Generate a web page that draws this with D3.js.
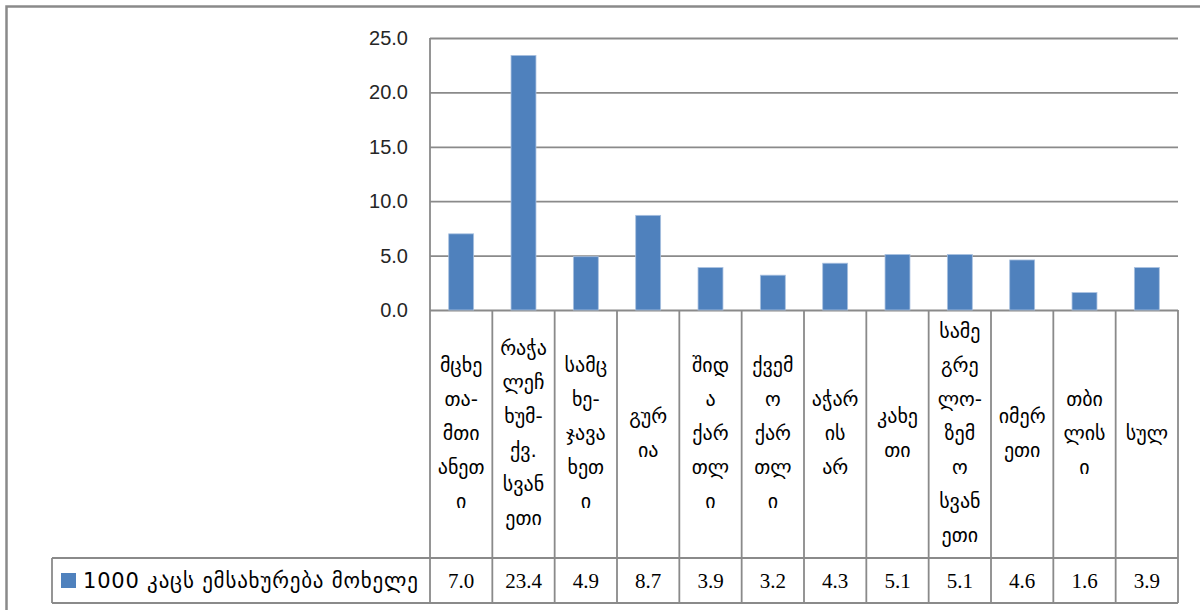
<!DOCTYPE html>
<html>
<head>
<meta charset="utf-8">
<script src="https://cdn.jsdelivr.net/npm/d3@7"></script>
<style>
  body { margin: 0; background: #fff; }
  svg { display: block; }
</style>
</head>
<body>
<div id="chart"></div>
<script>
// categories, already broken into the lines shown in the table cells
let categories = ["mcx", "rach", "samc", "gur", "shid", "kvem", "ach", "kax", "sameg", "imer", "tbi", "sul"];
let catLines = [
    ["მცხე", "თა-", "მთი", "ანეთ", "ი"],
    ["რაჭა", "ლეჩ", "ხუმ-", "ქვ.", "სვან", "ეთი"],
    ["სამც", "ხე-", "ჯავა", "ხეთ", "ი"],
    ["გურ", "ია"],
    ["შიდ", "ა", "ქარ", "თლ", "ი"],
    ["ქვემ", "ო", "ქარ", "თლ", "ი"],
    ["აჭარ", "ის", "არ"],
    ["კახე", "თი"],
    ["სამე", "გრე", "ლო-", "ზემ", "ო", "სვან", "ეთი"],
    ["იმერ", "ეთი"],
    ["თბი", "ლის", "ი"],
    ["სულ"]
];
let values = [7.0, 23.4, 4.9, 8.7, 3.9, 3.2, 4.3, 5.1, 5.1, 4.6, 1.6, 3.9];
let seriesName = "1000 კაცს ემსახურება მოხელე";
let yTicks = [0, 5, 10, 15, 20, 25];

let width = 1200, height = 610,
    margin = ({top: 38, right: 22, bottom: 300, left: 430}),
    rowTop = 310, rowMid = 558, rowBottom = 603, legendLeft = 52,
    lineH = 34,
    barColor = "#4F81BD", gridColor = "#8a8a8a",
    geo = "'DejaVu Sans', sans-serif";

let x = d3.scaleBand()
    .domain(categories)
    .range([margin.left, width - margin.right]);
let y = d3.scaleLinear()
    .domain([0, 25])
    .range([rowTop, margin.top]);

const svg = d3.select("#chart").append("svg")
    .attr("width", width).attr("height", height);

// outer chart frame (runs off the right and bottom edges)
svg.append("rect")
    .attr("x", 6.5).attr("y", 6.5)
    .attr("width", width + 20).attr("height", height + 20)
    .attr("fill", "none").attr("stroke", gridColor).attr("stroke-width", 2.5);

// gridlines + y axis labels
let yAxis = g => g
    .attr("transform", `translate(${margin.left},0)`)
    .call(d3.axisLeft(y)
        .tickValues(yTicks)
        .tickFormat(d3.format(".1f"))
        .tickSize(-(width - margin.right - margin.left))
        .tickPadding(22))
    .call(g => g.select(".domain").remove())
    .call(g => g.selectAll(".tick line").attr("stroke", gridColor).attr("stroke-width", 1.8))
    .call(g => g.selectAll(".tick text")
        .attr("font-family", "'Liberation Sans', sans-serif")
        .attr("font-size", 20)
        .attr("fill", "#262626"));
svg.append("g").call(yAxis);

// y axis line
svg.append("line")
    .attr("x1", margin.left).attr("x2", margin.left)
    .attr("y1", y(25)).attr("y2", rowBottom)
    .attr("stroke", gridColor).attr("stroke-width", 1.8);

// bars
let bw = x.bandwidth() * 0.4;
svg.append("g")
    .selectAll("rect")
    .data(values)
    .join("rect")
        .attr("x", (d, i) => x(categories[i]) + (x.bandwidth() - bw) / 2)
        .attr("y", d => y(d))
        .attr("width", bw)
        .attr("height", d => y(0) - y(d))
        .attr("fill", barColor)
        .attr("stroke", "#a9c1e0").attr("stroke-width", 0.8);

// data table grid
let grid = svg.append("g")
    .attr("stroke", gridColor).attr("stroke-width", 1.8);
grid.selectAll("line.v")
    .data(categories)
    .join("line")
        .attr("x1", d => x(d) + x.bandwidth()).attr("x2", d => x(d) + x.bandwidth())
        .attr("y1", rowTop).attr("y2", rowBottom);
grid.append("line")
    .attr("x1", legendLeft).attr("x2", width - margin.right)
    .attr("y1", rowMid).attr("y2", rowMid);
grid.append("line")
    .attr("x1", legendLeft).attr("x2", width - margin.right)
    .attr("y1", rowBottom).attr("y2", rowBottom);
grid.append("line")
    .attr("x1", legendLeft).attr("x2", legendLeft)
    .attr("y1", rowMid).attr("y2", rowBottom);

// category labels (wrapped)
let cy = (rowTop + rowMid) / 2;
svg.append("g")
    .selectAll("text")
    .data(catLines)
    .join("text")
        .attr("font-family", geo)
        .attr("font-size", 20)
        .attr("fill", "#000")
        .attr("text-anchor", "middle")
    .each(function(lines, i) {
        d3.select(this).selectAll("tspan")
            .data(lines)
            .join("tspan")
                .attr("x", x(categories[i]) + x.bandwidth() / 2)
                .attr("y", (d, j) => cy + (j - (lines.length - 1) / 2) * lineH + 6)
                .text(d => d);
    });

// values row
svg.append("g")
    .selectAll("text")
    .data(values)
    .join("text")
        .attr("x", (d, i) => x(categories[i]) + x.bandwidth() / 2)
        .attr("y", (rowMid + rowBottom) / 2 + 7)
        .attr("text-anchor", "middle")
        .attr("font-family", "'Liberation Serif', serif")
        .attr("font-size", 21)
        .attr("fill", "#000")
        .text(d => d3.format(".1f")(d));

// legend key + series name
svg.append("rect")
    .attr("x", 61).attr("y", 573)
    .attr("width", 15).attr("height", 15)
    .attr("fill", barColor);
svg.append("text")
    .attr("x", 83).attr("y", (rowMid + rowBottom) / 2 + 7)
    .attr("font-family", geo)
    .attr("font-size", 21)
    .attr("letter-spacing", 0.8)
    .attr("fill", "#000")
    .text(seriesName);
</script>
</body>
</html>
